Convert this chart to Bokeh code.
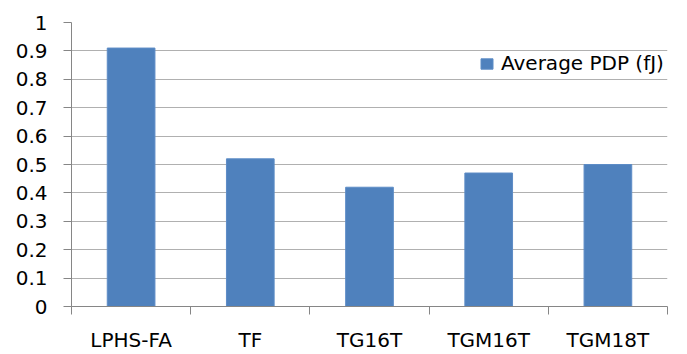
from bokeh.plotting import figure
from bokeh.models import Range1d, FixedTicker, Legend, LegendItem, ColumnDataSource
from bokeh.embed import file_html
from bokeh.resources import INLINE

categories = ["LPHS-FA", "TF", "TG16T", "TGM16T", "TGM18T"]
values = [0.91, 0.52, 0.42, 0.47, 0.50]
series_name = "Average PDP (fJ)"
y_ticks = [0, 0.1, 0.2, 0.3, 0.4, 0.5, 0.6, 0.7, 0.8, 0.9, 1]
y_tick_labels = ["0", "0.1", "0.2", "0.3", "0.4", "0.5", "0.6", "0.7", "0.8", "0.9", "1"]

FONT = "DejaVu Sans"
FS = "20px"
n = len(categories)
xs = [i + 0.5 for i in range(n)]
src = ColumnDataSource(dict(x=xs, top=values))

p = figure(width=687, height=354, output_backend="svg", toolbar_location=None,
           x_range=Range1d(0, n), y_range=Range1d(0, 1))
p.min_border_left = 71
p.min_border_right = 20
p.min_border_top = 22
p.min_border_bottom = 48
p.outline_line_color = None
p.background_fill_color = "white"
p.border_fill_color = "white"

r = p.vbar(x="x", top="top", width=0.4, source=src, fill_color="#4f81bd", line_color="#5d8cc6", line_width=1)

# y axis
p.yaxis.ticker = FixedTicker(ticks=y_ticks, minor_ticks=[])
p.yaxis.major_label_overrides = {t: l for t, l in zip(y_ticks, y_tick_labels)}
p.yaxis.axis_line_color = "#868686"
p.yaxis.major_tick_line_color = "#868686"
p.yaxis.major_tick_out = 8
p.yaxis.major_tick_in = 0
p.yaxis.major_label_standoff = 16
p.yaxis.major_label_text_font = FONT
p.yaxis.major_label_text_font_size = FS
p.yaxis.major_label_text_color = "#000000"

# x axis: labels at centers, ticks at boundaries (minor)
p.xaxis.ticker = FixedTicker(ticks=xs, minor_ticks=list(range(n + 1)))
p.xaxis.major_label_overrides = {x: c for x, c in zip(xs, categories)}
p.xaxis.axis_line_color = "#868686"
p.xaxis.major_tick_out = 0
p.xaxis.major_tick_in = 0
p.xaxis.minor_tick_line_color = "#868686"
p.xaxis.minor_tick_out = 8
p.xaxis.minor_tick_in = 0
p.xaxis.major_label_standoff = 13
p.xaxis.major_label_text_font = FONT
p.xaxis.major_label_text_font_size = FS
p.xaxis.major_label_text_color = "#000000"

p.xgrid.grid_line_color = None
p.ygrid.ticker = FixedTicker(ticks=y_ticks[1:])
p.ygrid.grid_line_color = "#b0b0b0"
p.ygrid.grid_line_width = 1

legend = Legend(items=[LegendItem(label=series_name, renderers=[r])],
                location=(408, 231))
legend.border_line_color = None
legend.background_fill_color = "white"
legend.background_fill_alpha = 1
legend.padding = 10
legend.margin = 0
legend.glyph_width = 15
legend.glyph_height = 13
legend.label_standoff = 7
legend.label_text_font = FONT
legend.label_text_font_size = FS
legend.label_text_color = "#000000"
p.add_layout(legend)

open("out.html", "w").write(file_html(p, INLINE))
